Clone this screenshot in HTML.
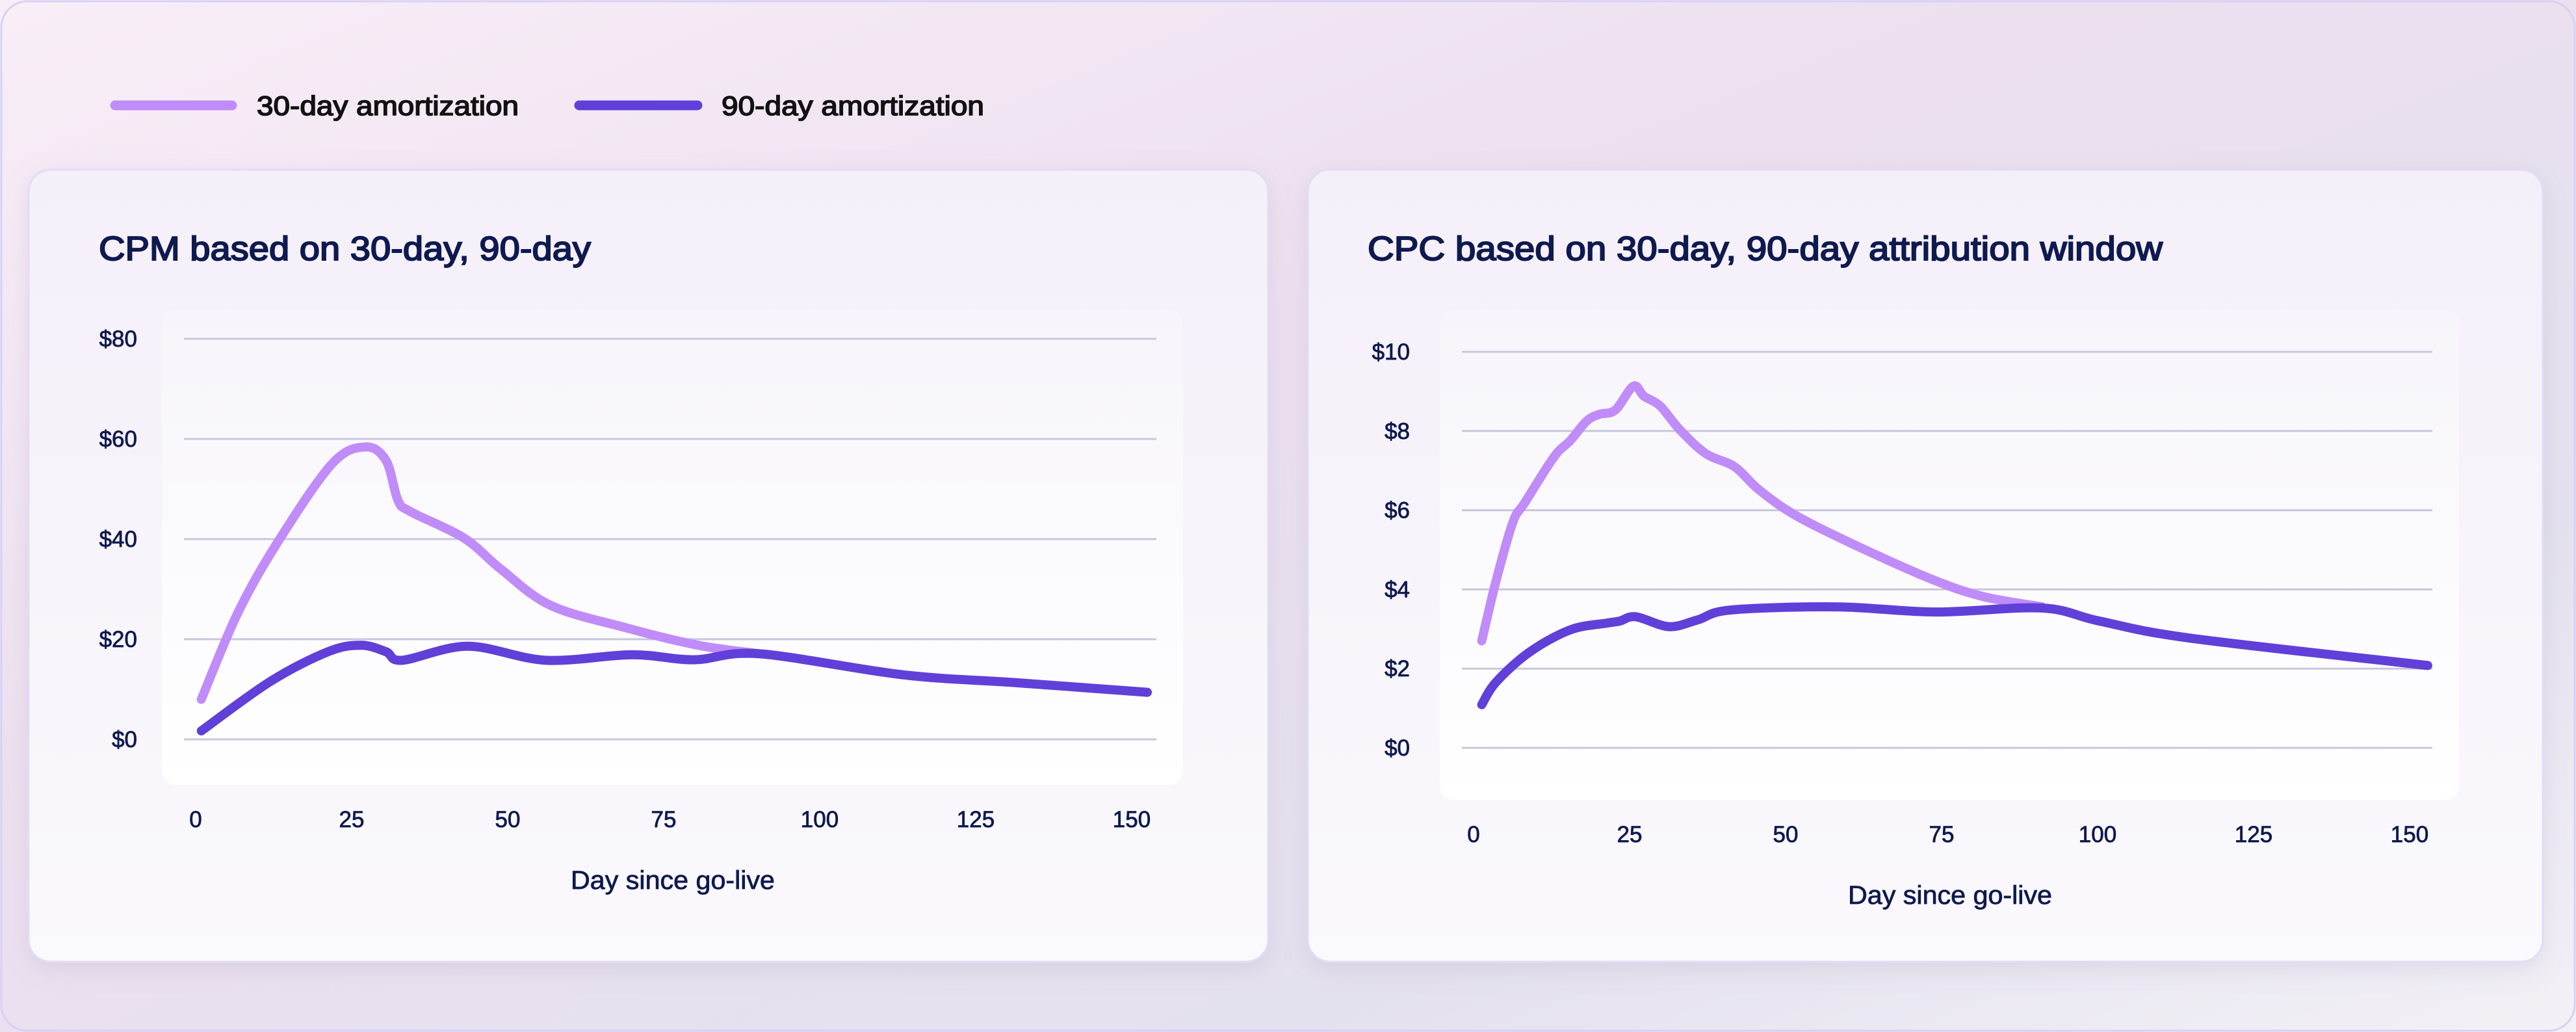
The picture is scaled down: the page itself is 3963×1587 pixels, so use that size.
<!DOCTYPE html>
<html><head><meta charset="utf-8"><style>
html,body{margin:0;padding:0;width:3963px;height:1587px;overflow:hidden;background:#ede6f2}
svg{display:block}
text{font-family:"Liberation Sans",sans-serif}
.med{stroke-width:1.6px;paint-order:stroke}
</style></head><body>
<svg id="root" width="3963" height="1587" viewBox="0 0 3963 1587">
<defs>
<linearGradient id="bg" x1="0" y1="0" x2="1" y2="1">
<stop offset="0" stop-color="#f8eef7"/><stop offset="0.4" stop-color="#ece0ef"/><stop offset="0.75" stop-color="#e4e1ee"/><stop offset="1" stop-color="#f3f1f6"/></linearGradient>
<linearGradient id="card" x1="0" y1="0" x2="0" y2="1">
<stop offset="0" stop-color="#f5eff9"/><stop offset="1" stop-color="#faf9fd"/></linearGradient>
<linearGradient id="panel" x1="0" y1="0" x2="0" y2="1">
<stop offset="0" stop-color="#f7f5fb"/><stop offset="1" stop-color="#ffffff"/></linearGradient>
<filter id="sh" x="-5%" y="-5%" width="110%" height="115%"><feDropShadow dx="0" dy="10" stdDeviation="18" flood-color="#8a7fa8" flood-opacity="0.18"/></filter>
</defs>
<rect x="0" y="0" width="3963" height="1587" fill="url(#bg)"/>
<rect x="2" y="2" width="3959" height="1583" rx="40" fill="none" stroke="#d9d0f5" stroke-width="3"/>
<g>
<line x1="177" y1="162" x2="357" y2="162" stroke="#c08cf9" stroke-width="15" stroke-linecap="round"/>
<text class="med" x="395" y="177" font-size="42" fill="#111" stroke="#111" textLength="403" lengthAdjust="spacingAndGlyphs">30-day amortization</text>
<line x1="891" y1="162" x2="1073" y2="162" stroke="#6040d8" stroke-width="15" stroke-linecap="round"/>
<text class="med" x="1110" y="177" font-size="42" fill="#111" stroke="#111" textLength="404" lengthAdjust="spacingAndGlyphs">90-day amortization</text>
</g>
<g id="charts"></g>
</svg>
<script>
// CPM chart data
const cpmYTicks = [0, 20, 40, 60, 80];
const cpmYLabels = ["$0", "$20", "$40", "$60", "$80"];
const xTicks = [0, 25, 50, 75, 100, 125, 150];
const cpm30Days = [0.7, 6.6, 13.2, 21.7, 27, 30.3, 32.2, 34.2, 42.8, 48.7, 56.6, 68.4, 80.3, 90.1];
const cpm30Vals = [8.0, 25.4, 39.9, 55.1, 58.4, 55.7, 47.8, 45.5, 40.2, 34.0, 26.8, 22.4, 18.8, 17.1];
const cpm90Days = [0.7, 11.8, 21, 26.3, 30.3, 32.9, 43.4, 55.9, 69.7, 79.6, 90.1, 113.1, 131.5, 152.3];
const cpm90Vals = [1.7, 11.6, 17.5, 18.8, 17.5, 15.8, 18.6, 15.8, 16.9, 15.9, 17.1, 12.9, 11.3, 9.4];
// CPC chart data
const cpcYTicks = [0, 2, 4, 6, 8, 10];
const cpcYLabels = ["$0", "$2", "$4", "$6", "$8", "$10"];
const cpc30Days = [1.1, 3.4, 6.1, 8.0, 12.7, 15.3, 17.9, 19.9, 22.5, 25.4, 27.1, 29.7, 32.8, 37, 41.6, 45.5, 51.5, 62, 73.8, 81.7, 90.9];
const cpc30Vals = [2.70, 4.22, 5.70, 6.19, 7.35, 7.76, 8.25, 8.42, 8.53, 9.13, 8.88, 8.63, 8.04, 7.43, 7.10, 6.52, 5.86, 5.04, 4.22, 3.81, 3.56];
const cpc90Days = [1.1, 3.4, 8.7, 15.3, 21.2, 23.2, 25.8, 31.1, 35.7, 41, 58, 73.8, 90.9, 100.1, 114.6, 152.7];
const cpc90Vals = [1.09, 1.66, 2.41, 2.98, 3.15, 3.20, 3.31, 3.06, 3.23, 3.48, 3.56, 3.43, 3.53, 3.20, 2.77, 2.08];

const NS = "http://www.w3.org/2000/svg";
function mk(tag, attrs, parent) {
  const e = document.createElementNS(NS, tag);
  for (const k in attrs) e.setAttribute(k, attrs[k]);
  parent.appendChild(e);
  return e;
}
function smooth(pts) {
  let d = "M" + pts[0][0] + "," + pts[0][1];
  for (let i = 0; i < pts.length - 1; i++) {
    const p0 = pts[i - 1] || pts[i], p1 = pts[i], p2 = pts[i + 1], p3 = pts[i + 2] || p2;
    const c1 = [p1[0] + (p2[0] - p0[0]) / 6, p1[1] + (p2[1] - p0[1]) / 6];
    const c2 = [p2[0] - (p3[0] - p1[0]) / 6, p2[1] - (p3[1] - p1[1]) / 6];
    d += " C" + c1[0] + "," + c1[1] + " " + c2[0] + "," + c2[1] + " " + p2[0] + "," + p2[1];
  }
  return d;
}
const root = document.getElementById("charts");
function chart(o) {
  const g = mk("g", {}, root);
  
  
  const card = mk("rect", {x: o.cx, y: 261, width: o.cw, height: 1218, rx: 34, fill: "url(#card)", stroke: "#e2dcf6", "stroke-width": 3, filter: "url(#sh)"}, g);
  
  
  const t = mk("text", {x: o.tx, y: 400, "font-size": 52, fill: "#0e1a4f", stroke: "#0e1a4f", "stroke-width": 2, textLength: o.tw, lengthAdjust: "spacingAndGlyphs"}, g);
  t.textContent = o.title;
  
  
  const p = mk("rect", {x: o.px, y: 476, width: o.pw, height: o.ph, rx: 22, fill: "url(#panel)"}, g);
  
  
  const X = d => o.x0 + 9.6 * d;
  const Y = v => o.y0 - (o.y0 - o.yTop) * v / o.yMax;
  o.yTicks.forEach((v, i) => {
    const l = mk("line", {x1: o.gx1, x2: o.gx2, y1: Y(v), y2: Y(v), stroke: "#c9c7dc", "stroke-width": 3}, g);
    
    
    const tx = mk("text", {x: o.ylx, y: Y(v) + 12, "font-size": 35, fill: "#0e1a4f", stroke: "#0e1a4f", "stroke-width": 0.8, "text-anchor": "end"}, g);
    tx.textContent = o.yLabels[i];
    
    
  });
  xTicks.forEach(v => {
    const tx = mk("text", {x: X(v) - 2, y: o.xly, "font-size": 35, fill: "#0e1a4f", stroke: "#0e1a4f", "stroke-width": 0.8, "text-anchor": "middle"}, g);
    tx.textContent = String(v);
    
    
  });
  const at = mk("text", {x: o.atx, y: o.aty, "font-size": 40, fill: "#0e1a4f", stroke: "#0e1a4f", "stroke-width": 0.8, "text-anchor": "middle", textLength: 314, lengthAdjust: "spacingAndGlyphs"}, g);
  at.textContent = "Day since go-live";
  
  
  const s30 = mk("path", {d: smooth(o.d30.map((d, i) => [X(d), Y(o.v30[i])])), fill: "none", stroke: "#c08cf9", "stroke-width": 14, "stroke-linecap": "round", "stroke-linejoin": "round"}, g);
  
  
  const s90 = mk("path", {d: smooth(o.d90.map((d, i) => [X(d), Y(o.v90[i])])), fill: "none", stroke: "#6040d8", "stroke-width": 14, "stroke-linecap": "round", "stroke-linejoin": "round"}, g);
  
  
}
chart({name: "cpm-chart", cx: 44, cw: 1907, title: "CPM based on 30-day, 90-day", tx: 152, tw: 757,
  px: 249, pw: 1571, ph: 731, x0: 303, y0: 1137, yTop: 521, yMax: 80, gx1: 283, gx2: 1779, ylx: 211,
  yTicks: cpmYTicks, yLabels: cpmYLabels, xly: 1272, atx: 1035, aty: 1367,
  d30: cpm30Days, v30: cpm30Vals, d90: cpm90Days, v90: cpm90Vals});
chart({name: "cpc-chart", cx: 2012, cw: 1900, title: "CPC based on 30-day, 90-day attribution window", tx: 2104, tw: 1223,
  px: 2215, pw: 1568, ph: 754, x0: 2269, y0: 1150, yTop: 541, yMax: 10, gx1: 2249, gx2: 3742, ylx: 2169,
  yTicks: cpcYTicks, yLabels: cpcYLabels, xly: 1295, atx: 3000, aty: 1390,
  d30: cpc30Days, v30: cpc30Vals, d90: cpc90Days, v90: cpc90Vals});
</script>
</body></html>
